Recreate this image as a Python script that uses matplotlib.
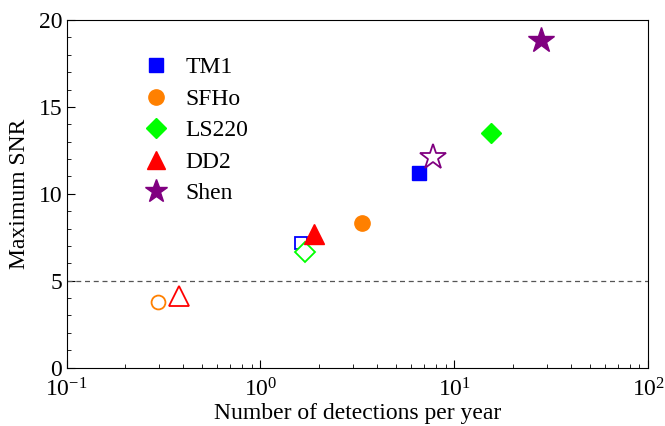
import matplotlib
matplotlib.use("Agg")
import matplotlib.pyplot as plt
from matplotlib.ticker import MultipleLocator, LogLocator, NullFormatter

plt.rcParams['font.family'] = ['Liberation Serif', 'DejaVu Serif']
plt.rcParams['mathtext.fontset'] = 'stix'

# equation of state models
eos = ["TM1", "SFHo", "LS220", "DD2", "Shen"]
colors = ["#0000ff", "#ff8000", "#00ff00", "#ff0000", "#800080"]
markers = ["s", "o", "D", "^", "*"]

# filled points (one per model)
rate_full = [6.54, 3.33, 15.4, 1.89, 28.0]
snr_full = [11.18, 8.31, 13.52, 7.69, 18.85]

# open points
rate_open = [1.61, 0.296, 1.69, 0.38, 7.78]
snr_open = [7.19, 3.78, 6.67, 4.1, 12.1]

size_full = [10, 11, 10, 14, 19]
size_open = [9, 10, 10, 14, 19]

threshold = 5

fig, ax = plt.subplots(figsize=(6.65, 4.26), dpi=100)
fig.subplots_adjust(left=0.1, right=0.975, top=0.953, bottom=0.137)

for i in range(len(eos)):
    ax.plot(rate_full[i], snr_full[i], markers[i], color=colors[i],
            ms=size_full[i], mec=colors[i], label=eos[i], zorder=3)
    ax.plot(rate_open[i], snr_open[i], markers[i], color=colors[i],
            ms=size_open[i], mfc='white', mec=colors[i], mew=1.3, zorder=3)

ax.axhline(threshold, color='#555555', ls='--', lw=0.9, dashes=(4, 3))

ax.set_xscale('log')
ax.set_xlim(0.1, 100)
ax.set_ylim(0, 20)
ax.yaxis.set_major_locator(MultipleLocator(5))
ax.yaxis.set_minor_locator(MultipleLocator(1))
ax.xaxis.set_minor_locator(LogLocator(base=10, subs=range(2, 10), numticks=20))
ax.xaxis.set_minor_formatter(NullFormatter())
ax.tick_params(which='both', direction='in', labelsize=17)
ax.tick_params(which='major', length=6)
ax.tick_params(which='minor', length=3)
ax.tick_params(axis='x', pad=8)
ax.tick_params(axis='y', pad=3)

ax.set_xlabel("Number of detections per year", fontsize=17, labelpad=1)
ax.set_ylabel("Maximum SNR", fontsize=17, labelpad=6)

leg = ax.legend(loc='upper left', frameon=False, fontsize=17, numpoints=1,
                bbox_to_anchor=(0.085, 0.955), handletextpad=0.45,
                labelspacing=0.42, handlelength=1.6)
# legend markers are a bit smaller than the plotted ones
for h, s in zip(leg.legend_handles, [10, 11, 10, 13, 17]):
    h.set_markersize(s)

fig.savefig("out.png", dpi=100)
